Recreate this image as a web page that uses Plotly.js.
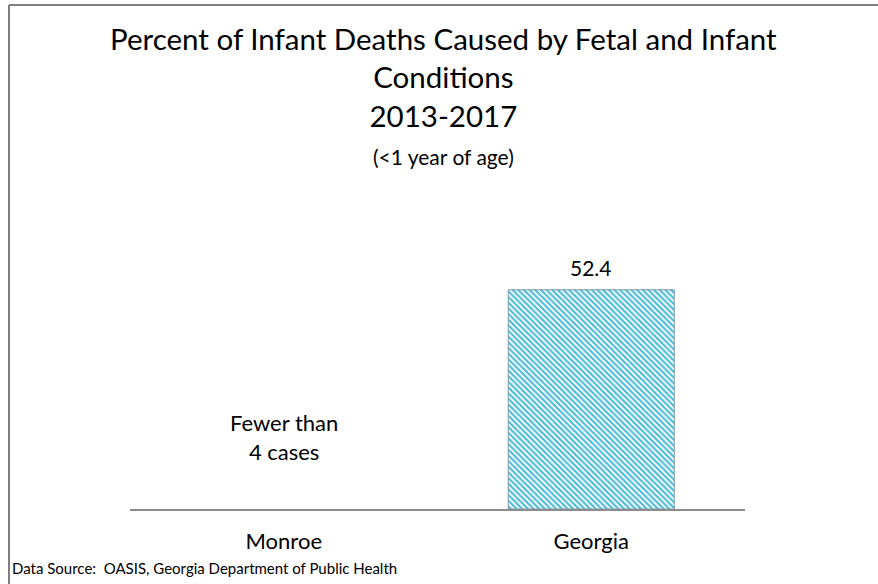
<!DOCTYPE html>
<html>
<head>
<meta charset="utf-8">
<script src="https://cdn.plot.ly/plotly-3.0.1.min.js"></script>
<style>html,body{margin:0;padding:0;background:#fff;}#chart{width:878px;height:584px;}</style>
</head>
<body>
<div id="chart"></div>
<script>
const categories = ["Monroe", "Georgia"];
const values = [null, 52.4];
const valueLabels = ["", "52.4"];
const suppressedNote = "Fewer than<br>4 cases";
const titleLines = ["Percent of Infant Deaths Caused by Fetal and Infant", "Conditions", "2013-2017"];
const subtitle = "(<1 year of age)";
const sourceNote = "Data Source:  OASIS, Georgia Department of Public Health";

const FONT = "Lato, 'Open Sans', sans-serif";

const trace = {
  type: "bar",
  x: categories,
  y: values,
  marker: {
    color: "#eafcff",
    pattern: {shape: "\\", fgcolor: "#4cb6d6", bgcolor: "#f2feff", size: 4, solidity: 0.5, fillmode: "replace"},
    line: {color: "#7c9aa4", width: 1}
  },
  hoverinfo: "skip"
};

const valueAnnotations = categories.map((c, i) => values[i] == null ? null : ({
  xref: "x", yref: "y", x: c, y: values[i], text: valueLabels[i], showarrow: false,
  yanchor: "bottom", yshift: 8, font: {family: FONT, size: 21, color: "#000"}
})).filter(a => a);

const layout = {
  width: 878, height: 584,
  margin: {l: 130, r: 133, t: 258, b: 75},
  paper_bgcolor: "#fff", plot_bgcolor: "#fff",
  showlegend: false,
  bargap: 0.46,
  title: {
    text: titleLines.join("<br>") + "<br><span style='font-size:21px'>" + subtitle + "</span>",
    font: {family: FONT, size: 29.5, color: "#000"},
    x: 0.505, xanchor: "center",
    y: 1 - 50/584, yanchor: "top", yref: "container"
  },
  xaxis: {
    type: "category",
    showgrid: false, zeroline: false,
    showline: true, linecolor: "#8c8c8c", linewidth: 2,
    ticks: "", ticklabelstandoff: 12,
    tickfont: {family: FONT, size: 22, color: "#000"}
  },
  yaxis: {
    range: [0, 60],
    visible: false, showgrid: false, zeroline: false
  },
  annotations: valueAnnotations.concat([
    {xref: "x", yref: "paper", x: categories[0], y: (509-437)/251, yanchor: "middle", text: suppressedNote, showarrow: false,
     font: {family: FONT, size: 22, color: "#000"}, align: "center"},
    {xref: "paper", yref: "paper", x: (10-130)/615, y: (509-568)/251, xanchor: "left", yanchor: "middle",
     text: sourceNote, showarrow: false, font: {family: FONT, size: 15, color: "#000"}}
  ]),
  shapes: [
    {type: "line", xref: "paper", yref: "paper", x0: (9-130)/615, x1: (878-130)/615, y0: (509-5)/251, y1: (509-5)/251,
     line: {color: "#7f7f7f", width: 2}},
    {type: "line", xref: "paper", yref: "paper", x0: (9-130)/615, x1: (9-130)/615, y0: (509-5)/251, y1: (509-584)/251,
     line: {color: "#7f7f7f", width: 2}}
  ]
};

Plotly.newPlot("chart", [trace], layout, {displayModeBar: false, staticPlot: true});
</script>
</body>
</html>
